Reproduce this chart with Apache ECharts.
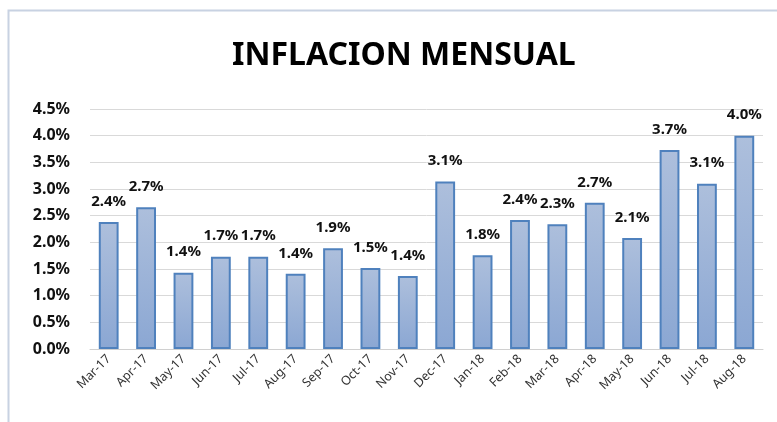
<!DOCTYPE html>
<html>
<head>
<meta charset="utf-8">
<script src="https://cdn.jsdelivr.net/npm/echarts@6/dist/echarts.min.js"></script>
<style>
  html, body { margin: 0; padding: 0; background: #fff; }
  #chart { width: 777px; height: 422px; }
</style>
</head>
<body>
<div id="chart"></div>
<script>
// meses
const months = ['Mar-17', 'Apr-17', 'May-17', 'Jun-17', 'Jul-17', 'Aug-17', 'Sep-17', 'Oct-17', 'Nov-17',
  'Dec-17', 'Jan-18', 'Feb-18', 'Mar-18', 'Apr-18', 'May-18', 'Jun-18', 'Jul-18', 'Aug-18']
// inflacion mensual (%)
const inflation = [2.38, 2.66, 1.43, 1.73, 1.73, 1.41, 1.89, 1.52, 1.37,
  3.14, 1.76, 2.42, 2.34, 2.74, 2.08, 3.73, 3.10, 4.00]
const yTicks = { min: 0, max: 4.5, interval: 0.5 }

const chart = echarts.init(document.getElementById('chart'))

chart.setOption({
  animation: false,
  title: {
    text: 'INFLACION MENSUAL',
    left: 227,
    top: 35,
    textStyle: {
      fontFamily: 'Noto Sans',
      fontWeight: 'bold',
      fontSize: 32,
      color: '#000'
    }
  },
  // marco del grafico
  graphic: [{
    type: 'rect',
    shape: { x: 8.5, y: 10.5, width: 800, height: 500 },
    style: { fill: 'none', stroke: '#c8d2e2', lineWidth: 2 }
  }],
  grid: {
    left: 90,
    right: 14,
    top: 109,
    bottom: 73
  },
  xAxis: {
    type: 'category',
    data: months,
    axisLine: { lineStyle: { color: '#d0d0d0', width: 1 } },
    axisTick: { show: false },
    axisLabel: {
      rotate: 45,
      interval: 0,
      margin: 8,
      fontFamily: 'Noto Sans',
      fontSize: 12.5,
      color: '#333'
    }
  },
  yAxis: {
    type: 'value',
    min: yTicks.min,
    max: yTicks.max,
    interval: yTicks.interval,
    axisLine: { show: false },
    axisTick: { show: false },
    axisLabel: {
      margin: 20,
      fontFamily: 'Noto Sans',
      fontWeight: 'bold',
      fontSize: 16,
      color: '#111',
      formatter: v => v.toFixed(1) + '%'
    },
    splitLine: { lineStyle: { color: '#d9d9d9', width: 1 } }
  },
  series: [{
    type: 'bar',
    data: inflation,
    barWidth: '53%',
    itemStyle: {
      borderColor: '#4f81bd',
      borderWidth: 2,
      color: {
        type: 'linear',
        x: 0, y: 0, x2: 0, y2: 1,
        colorStops: [
          { offset: 0, color: '#adbfdc' },
          { offset: 1, color: '#8ba7d3' }
        ]
      }
    },
    label: {
      show: true,
      position: 'top',
      distance: 13,
      fontFamily: 'Noto Sans',
      fontWeight: 'bold',
      fontSize: 15,
      color: '#111',
      formatter: p => p.value.toFixed(1) + '%'
    }
  }]
})
</script>
</body>
</html>
